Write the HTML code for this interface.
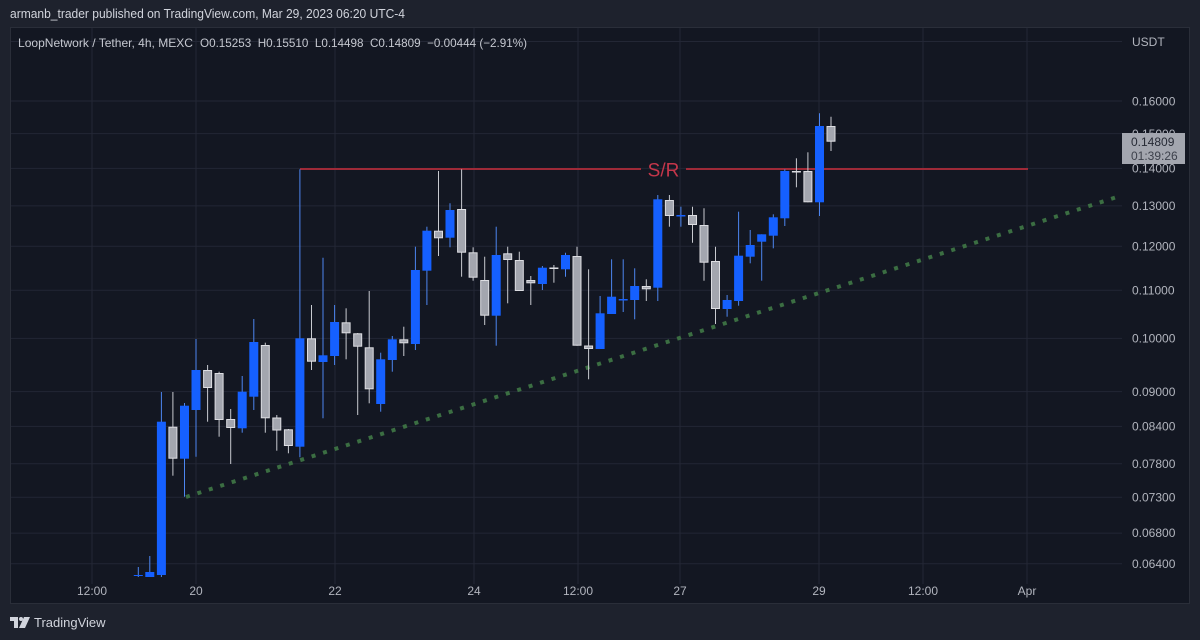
<!DOCTYPE html>
<html>
<head>
<meta charset="utf-8">
<style>
html,body{margin:0;padding:0;background:#1e222d;}
svg{display:block;}
text{font-family:"Liberation Sans",sans-serif;}
</style>
</head>
<body>
<svg width="1200" height="640" viewBox="0 0 1200 640" xmlns="http://www.w3.org/2000/svg">
<rect x="0" y="0" width="1200" height="640" fill="#1e222d"/>
<text x="10" y="18" font-size="12.5" fill="#d1d4dc" textLength="395" lengthAdjust="spacingAndGlyphs">armanb_trader published on TradingView.com, Mar 29, 2023 06:20 UTC-4</text>
<rect x="10.5" y="27.5" width="1179" height="576" fill="#131722" stroke="#2a2e39" stroke-width="1"/>

<g stroke="#232735" stroke-width="1">
<line x1="11" y1="41.5" x2="1122" y2="41.5"/>
<line x1="11" y1="101" x2="1122" y2="101"/>
<line x1="11" y1="133.6" x2="1122" y2="133.6"/>
<line x1="11" y1="168.4" x2="1122" y2="168.4"/>
<line x1="11" y1="205.9" x2="1122" y2="205.9"/>
<line x1="11" y1="246.3" x2="1122" y2="246.3"/>
<line x1="11" y1="290.2" x2="1122" y2="290.2"/>
<line x1="11" y1="338.4" x2="1122" y2="338.4"/>
<line x1="11" y1="391.6" x2="1122" y2="391.6"/>
<line x1="11" y1="426.4" x2="1122" y2="426.4"/>
<line x1="11" y1="463.8" x2="1122" y2="463.8"/>
<line x1="11" y1="497.3" x2="1122" y2="497.3"/>
<line x1="11" y1="533.1" x2="1122" y2="533.1"/>
<line x1="11" y1="563.7" x2="1122" y2="563.7"/>
<line x1="92" y1="28" x2="92" y2="584"/>
<line x1="196" y1="28" x2="196" y2="584"/>
<line x1="335" y1="28" x2="335" y2="584"/>
<line x1="474" y1="28" x2="474" y2="584"/>
<line x1="578" y1="28" x2="578" y2="584"/>
<line x1="680" y1="28" x2="680" y2="584"/>
<line x1="819" y1="28" x2="819" y2="584"/>
<line x1="923" y1="28" x2="923" y2="584"/>
<line x1="1027" y1="28" x2="1027" y2="584"/>
</g>

<text x="18" y="47" font-size="12" fill="#c5c8d0" textLength="175" lengthAdjust="spacingAndGlyphs">LoopNetwork / Tether, 4h, MEXC</text>
<text x="200" y="47" font-size="12" fill="#c5c8d0" textLength="327" lengthAdjust="spacingAndGlyphs" xml:space="preserve">O0.15253  H0.15510  L0.14498  C0.14809  −0.00444 (−2.91%)</text>

<!-- dotted trend line -->
<line x1="186" y1="497" x2="1120" y2="196" stroke="#3b6e42" stroke-width="4" stroke-dasharray="4 8"/>

<!-- S/R line -->
<line x1="300" y1="169" x2="641" y2="169" stroke="#9e2a38" stroke-width="2"/>
<line x1="686" y1="169" x2="1028" y2="169" stroke="#9e2a38" stroke-width="2"/>
<text x="663.5" y="176.5" font-size="19" fill="#c4364a" text-anchor="middle">S/R</text>

<!-- wicks blue -->
<g stroke="#4d86f0" stroke-width="1">
<line x1="138.3" y1="567" x2="138.3" y2="577"/>
<line x1="149.8" y1="556" x2="149.8" y2="577"/>
<line x1="161.4" y1="392" x2="161.4" y2="577"/>
<line x1="184.5" y1="403" x2="184.5" y2="496.7"/>
<line x1="196.0" y1="339" x2="196.0" y2="456.7"/>
<line x1="242.2" y1="376" x2="242.2" y2="432.7"/>
<line x1="253.8" y1="319" x2="253.8" y2="410"/>
<line x1="299.9" y1="169.3" x2="299.9" y2="457.3"/>
<line x1="323.0" y1="257.7" x2="323.0" y2="418.3"/>
<line x1="334.6" y1="305" x2="334.6" y2="365"/>
<line x1="380.7" y1="352.7" x2="380.7" y2="411.7"/>
<line x1="392.3" y1="336" x2="392.3" y2="371.7"/>
<line x1="415.4" y1="246.7" x2="415.4" y2="350"/>
<line x1="426.9" y1="226.7" x2="426.9" y2="305"/>
<line x1="450.0" y1="203.3" x2="450.0" y2="247.3"/>
<line x1="496.2" y1="226.7" x2="496.2" y2="345.7"/>
<line x1="542.4" y1="266" x2="542.4" y2="290"/>
<line x1="565.5" y1="252.7" x2="565.5" y2="276.7"/>
<line x1="600.1" y1="296" x2="600.1" y2="349"/>
<line x1="611.6" y1="259.3" x2="611.6" y2="314"/>
<line x1="623.2" y1="259.3" x2="623.2" y2="312"/>
<line x1="634.7" y1="268.3" x2="634.7" y2="319.3"/>
<line x1="657.8" y1="195" x2="657.8" y2="301"/>
<line x1="680.9" y1="206.7" x2="680.9" y2="226.7"/>
<line x1="727.1" y1="295" x2="727.1" y2="316.7"/>
<line x1="738.6" y1="211.7" x2="738.6" y2="305.7"/>
<line x1="750.2" y1="230" x2="750.2" y2="263.3"/>
<line x1="761.7" y1="234.3" x2="761.7" y2="280.7"/>
<line x1="773.3" y1="214.3" x2="773.3" y2="248.3"/>
<line x1="784.8" y1="169.3" x2="784.8" y2="226"/>
<line x1="819.5" y1="113.3" x2="819.5" y2="216"/>
</g>
<!-- wicks gray -->
<g stroke="#c8cad0" stroke-width="1">
<line x1="172.9" y1="392" x2="172.9" y2="475.7"/>
<line x1="207.6" y1="365" x2="207.6" y2="421.7"/>
<line x1="219.1" y1="371.7" x2="219.1" y2="436.7"/>
<line x1="230.7" y1="409" x2="230.7" y2="464"/>
<line x1="265.3" y1="342.7" x2="265.3" y2="432.7"/>
<line x1="276.8" y1="415" x2="276.8" y2="450.7"/>
<line x1="288.4" y1="429" x2="288.4" y2="453.3"/>
<line x1="311.5" y1="305" x2="311.5" y2="370"/>
<line x1="346.1" y1="308.3" x2="346.1" y2="359.3"/>
<line x1="357.7" y1="333" x2="357.7" y2="415"/>
<line x1="369.2" y1="291" x2="369.2" y2="403.3"/>
<line x1="403.8" y1="326.7" x2="403.8" y2="356"/>
<line x1="438.5" y1="171" x2="438.5" y2="256"/>
<line x1="461.6" y1="169.3" x2="461.6" y2="276.7"/>
<line x1="473.1" y1="247.3" x2="473.1" y2="280.7"/>
<line x1="484.7" y1="256.7" x2="484.7" y2="325"/>
<line x1="507.7" y1="246.7" x2="507.7" y2="303.3"/>
<line x1="519.3" y1="251.7" x2="519.3" y2="291"/>
<line x1="530.8" y1="276" x2="530.8" y2="305"/>
<line x1="553.9" y1="265" x2="553.9" y2="282.7"/>
<line x1="577.0" y1="246.7" x2="577.0" y2="345.7"/>
<line x1="588.6" y1="269.3" x2="588.6" y2="379.3"/>
<line x1="646.3" y1="279.3" x2="646.3" y2="301"/>
<line x1="669.4" y1="195" x2="669.4" y2="226.7"/>
<line x1="692.5" y1="206.7" x2="692.5" y2="242.7"/>
<line x1="704.0" y1="208.3" x2="704.0" y2="280.7"/>
<line x1="715.5" y1="246.7" x2="715.5" y2="324"/>
<line x1="796.4" y1="158.3" x2="796.4" y2="187.3"/>
<line x1="807.9" y1="152.3" x2="807.9" y2="202.3"/>
<line x1="831.0" y1="116.7" x2="831.0" y2="151"/>
</g>

<!-- blue bodies -->
<g fill="#1560ff">
<rect x="133.8" y="575" width="9" height="1"/>
<rect x="145.3" y="572" width="9" height="5"/>
<rect x="156.9" y="421.7" width="9" height="153.3"/>
<rect x="180.0" y="405.7" width="9" height="53"/>
<rect x="191.5" y="370" width="9" height="40"/>
<rect x="237.7" y="391.7" width="9" height="36.6"/>
<rect x="249.3" y="342" width="9" height="54.7"/>
<rect x="295.4" y="338.3" width="9" height="108.4"/>
<rect x="318.5" y="355.3" width="9" height="6.7"/>
<rect x="330.1" y="322" width="9" height="34"/>
<rect x="376.2" y="359.3" width="9" height="44.7"/>
<rect x="387.8" y="339.3" width="9" height="20.7"/>
<rect x="410.9" y="270" width="9" height="74"/>
<rect x="422.4" y="230.7" width="9" height="40"/>
<rect x="445.5" y="210" width="9" height="27.7"/>
<rect x="491.7" y="255" width="9" height="60.7"/>
<rect x="537.9" y="267.7" width="9" height="16.3"/>
<rect x="561.0" y="255" width="9" height="14.3"/>
<rect x="595.6" y="313.3" width="9" height="35.7"/>
<rect x="607.1" y="296.7" width="9" height="17.3"/>
<rect x="618.7" y="299" width="9" height="1.5"/>
<rect x="630.2" y="286" width="9" height="14"/>
<rect x="653.3" y="199.3" width="9" height="88.4"/>
<rect x="676.4" y="215" width="9" height="1.5"/>
<rect x="722.6" y="300" width="9" height="9"/>
<rect x="734.1" y="255.7" width="9" height="45.3"/>
<rect x="745.7" y="245" width="9" height="11.7"/>
<rect x="757.2" y="234.3" width="9" height="7.4"/>
<rect x="768.8" y="217.3" width="9" height="18.4"/>
<rect x="780.3" y="171" width="9" height="47.3"/>
<rect x="815.0" y="126" width="9" height="76.3"/>
</g>

<!-- gray bodies -->
<g fill="#a3a6af" stroke="#dcdde2" stroke-width="1">
<rect x="168.9" y="427.2" width="8" height="31"/>
<rect x="203.6" y="370.5" width="8" height="17"/>
<rect x="215.1" y="373.5" width="8" height="46"/>
<rect x="226.7" y="419.5" width="8" height="8"/>
<rect x="261.3" y="345.5" width="8" height="72.3"/>
<rect x="272.8" y="418" width="8" height="12"/>
<rect x="284.4" y="429.8" width="8" height="15.7"/>
<rect x="307.5" y="338.8" width="8" height="22.4"/>
<rect x="342.1" y="322.8" width="8" height="10"/>
<rect x="353.7" y="333.8" width="8" height="12.4"/>
<rect x="365.2" y="347.8" width="8" height="41"/>
<rect x="399.8" y="339.8" width="8" height="3"/>
<rect x="434.5" y="231.2" width="8" height="6.6"/>
<rect x="457.6" y="209.5" width="8" height="42.7"/>
<rect x="469.1" y="252.8" width="8" height="24.4"/>
<rect x="480.7" y="280.5" width="8" height="34.7"/>
<rect x="503.7" y="253.8" width="8" height="5.7"/>
<rect x="515.3" y="260.5" width="8" height="30"/>
<rect x="526.8" y="280.5" width="8" height="2.3"/>
<rect x="573.0" y="256.5" width="8" height="88.7"/>
<rect x="584.6" y="346" width="8" height="2.5"/>
<rect x="642.3" y="286.5" width="8" height="2.3"/>
<rect x="665.4" y="200.5" width="8" height="15"/>
<rect x="688.5" y="215.5" width="8" height="9"/>
<rect x="700.0" y="225.5" width="8" height="36.7"/>
<rect x="711.5" y="261.5" width="8" height="47"/>
<rect x="803.9" y="171.5" width="8" height="30.3"/>
<rect x="827.0" y="126.5" width="8" height="14.7"/>
</g>
<g fill="#dcdde2">
<rect x="549.4" y="267.5" width="9" height="1.5"/>
<rect x="791.9" y="171" width="9" height="1.5"/>
</g>

<!-- price axis labels -->
<g font-size="12" fill="#b2b5be">
<text x="1132" y="46">USDT</text>
<text x="1132" y="105.5">0.16000</text>
<text x="1132" y="138">0.15000</text>
<text x="1132" y="172.5">0.14000</text>
<text x="1132" y="210">0.13000</text>
<text x="1132" y="250.5">0.12000</text>
<text x="1132" y="294.5">0.11000</text>
<text x="1132" y="342.5">0.10000</text>
<text x="1132" y="396">0.09000</text>
<text x="1132" y="430.5">0.08400</text>
<text x="1132" y="468">0.07800</text>
<text x="1132" y="501.5">0.07300</text>
<text x="1132" y="537">0.06800</text>
<text x="1132" y="568">0.06400</text>
</g>
<rect x="1122" y="133" width="63" height="31" fill="#a3a6af"/>
<text x="1131" y="146" font-size="12" fill="#262a35">0.14809</text>
<text x="1131" y="160" font-size="12" fill="#3d414c">01:39:26</text>

<!-- time axis labels -->
<g font-size="12" fill="#b2b5be" text-anchor="middle">
<text x="92" y="595">12:00</text>
<text x="196" y="595">20</text>
<text x="335" y="595">22</text>
<text x="474" y="595">24</text>
<text x="578" y="595">12:00</text>
<text x="680" y="595">27</text>
<text x="819" y="595">29</text>
<text x="923" y="595">12:00</text>
<text x="1027" y="595">Apr</text>
</g>

<!-- TradingView logo -->
<g fill="#d1d4dc">
<rect x="10" y="617" width="8" height="4"/>
<rect x="14" y="617" width="4" height="11"/>
<circle cx="21" cy="619" r="2"/>
<polygon points="24,617 30,617 25,628 19,628"/>
</g>
<text x="34" y="627" font-size="13" fill="#d1d4dc">TradingView</text>
</svg>
</body>
</html>
